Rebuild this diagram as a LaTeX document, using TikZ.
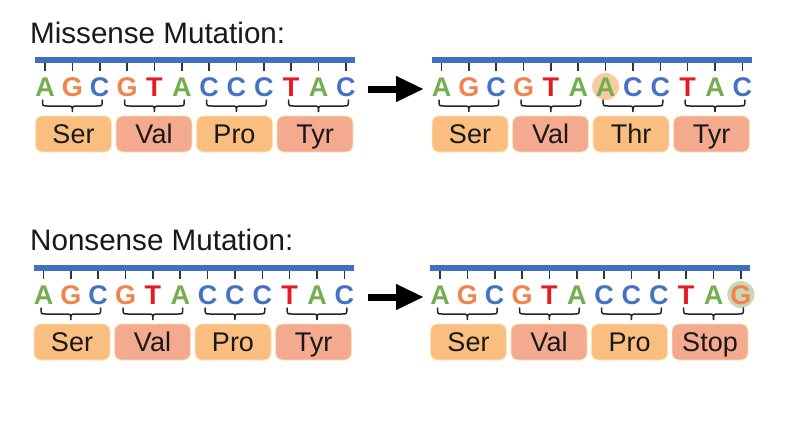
\documentclass[tikz,border=0pt]{standalone}
\usepackage{fontspec}
\setmainfont{Liberation Sans}
\usetikzlibrary{arrows.meta}
\definecolor{barblue}{HTML}{4170C0}
\definecolor{colA}{HTML}{74AE4F}
\definecolor{colG}{HTML}{F2834C}
\definecolor{colC}{HTML}{4472C4}
\definecolor{colT}{HTML}{E41B22}
\definecolor{boxO}{HTML}{F9BE80}
\definecolor{boxS}{HTML}{F4AA8E}
\definecolor{boxedge}{HTML}{FCE6B4}
\definecolor{hlO}{HTML}{F8CCA2}
\definecolor{hlG}{HTML}{CAD6B8}
\definecolor{tickgray}{HTML}{333333}
\newcommand\dnapanel[5]{%
  % #1 prefix, #2 x0, #3 letter list, #4 amino list, #5 highlight (index/color or none)
  \draw[barline] ({#2-10},60) -- ({#2+310},60);
  \foreach \h/\hc in {#5} {\fill[\hc] ({#2+27.35*\h},86.5) circle (13.5);}
  \foreach \L [count=\i from 0] in {#3} {
    \draw[tickline] ({#2+27.35*\i},63) -- ({#2+27.35*\i},70.5);
    \node[letter, text=col\L] (#1l\i) at ({#2+27.35*\i},96) {\L};
  }
  \foreach \a/\c [count=\j from 0] in {#4} {
    \pgfmathsetmacro\xa{#2+27.35*3*\j-2.5}
    \pgfmathsetmacro\xm{#2+27.35*(3*\j+1)}
    \pgfmathsetmacro\xb{#2+27.35*(3*\j+2)+2.5}
    \draw[bracel] (\xa,100) .. controls (\xa,106) .. (\xa+5,106) -- (\xm-5,106)
      .. controls (\xm,106) .. (\xm,112) .. controls (\xm,106) .. (\xm+5,106)
      -- (\xb-5,106) .. controls (\xb,106) .. (\xb,100);
    \node[aabox, fill=\c] (#1b\j) at ({#2-9.5+80.5*\j+38},134) {\a};
  }
}
\begin{document}
\begin{tikzpicture}[x=1pt,y=-1pt,
  barline/.style={draw=barblue, line width=6pt},
  tickline/.style={draw=tickgray, line width=1.6pt},
  letter/.style={anchor=base, inner sep=0pt, font=\fontsize{27}{27}\selectfont\bfseries},
  bracel/.style={draw=black!85, line width=1.5pt, line cap=round},
  aabox/.style={draw=boxedge, line width=0.8pt, rounded corners=7pt, minimum width=76pt,
    minimum height=36pt, inner sep=0pt, text height=20pt, text depth=2pt,
    font=\fontsize{27}{27}\selectfont, text=black!90},
  title/.style={anchor=base west, inner sep=0pt, font=\fontsize{29.6}{30}\selectfont, text=black!90},
  bigarrow/.style={draw=black, line width=7pt, -{Triangle[length=28pt,width=24pt]}}
]
\useasboundingbox[fill=white] (0,0) rectangle (802,424);
\node[title] (t1) at (30,43) {Missense Mutation:};
\dnapanel{a}{45}{A,G,C,G,T,A,C,C,C,T,A,C}{Ser/boxO,Val/boxS,Pro/boxO,Tyr/boxS}{}
\begin{scope}[shift={(396.5,0)}]
\dnapanel{b}{45}{A,G,C,G,T,A,A,C,C,T,A,C}{Ser/boxO,Val/boxS,Thr/boxO,Tyr/boxS}{6/hlO}
\end{scope}
\coordinate (ar1s) at (368,89);
\coordinate (ar1e) at (424,89);
\draw[bigarrow] (ar1s) -- (ar1e);
\node[title] (t2) at (30,250) {Nonsense Mutation:};
\begin{scope}[shift={(-1.5,208)}]
\dnapanel{c}{45}{A,G,C,G,T,A,C,C,C,T,A,C}{Ser/boxO,Val/boxS,Pro/boxO,Tyr/boxS}{}
\end{scope}
\begin{scope}[shift={(395,208)}]
\dnapanel{d}{45}{A,G,C,G,T,A,C,C,C,T,A,G}{Ser/boxO,Val/boxS,Pro/boxO,Stop/boxS}{11/hlG}
\end{scope}
\coordinate (ar2s) at (368,297);
\coordinate (ar2e) at (424,297);
\draw[bigarrow] (ar2s) -- (ar2e);
\end{tikzpicture}
\end{document}
